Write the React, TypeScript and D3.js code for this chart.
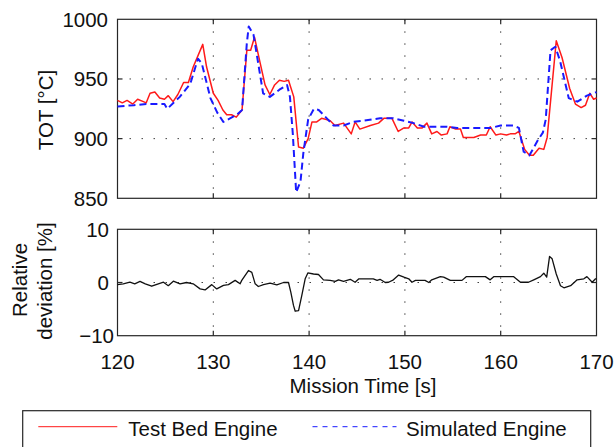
import React from 'react';
import * as d3 from 'd3';

// Test Bed Engine TOT [°C] over mission time [s]
const testBed: [number, number][] = [
  [120.0, 932], [120.5, 930], [121.0, 932], [121.6, 929], [122.1, 933], [122.7, 931],
  [123.0, 930], [123.4, 938], [123.9, 939], [124.4, 934], [124.9, 933], [125.3, 936],
  [125.8, 931], [126.3, 937], [126.9, 947], [127.4, 947], [127.9, 960], [128.9, 979],
  [129.3, 960], [130.0, 938], [130.5, 932], [131.0, 924], [131.4, 920], [131.9, 920],
  [132.4, 918], [133.0, 924], [133.5, 974], [133.9, 974], [134.3, 985], [134.9, 963],
  [135.4, 945], [135.9, 937], [136.4, 945], [136.9, 949], [137.4, 948], [137.85, 949],
  [138.4, 935], [138.9, 893], [139.4, 892], [139.9, 900], [140.3, 914], [140.8, 914],
  [141.3, 917], [141.8, 916], [142.2, 915], [142.7, 911], [143.6, 913], [144.4, 904],
  [144.8, 914], [145.3, 908], [146.4, 911], [147.25, 913], [147.8, 917], [148.65, 917],
  [149.3, 906], [149.9, 909], [150.4, 909], [150.75, 914], [151.3, 909], [151.8, 909],
  [152.3, 913], [152.8, 904], [153.35, 906], [153.8, 903], [154.4, 904], [154.7, 910],
  [155.3, 908], [155.8, 908], [156.1, 901], [157.2, 901], [157.9, 903], [158.5, 903],
  [158.9, 910], [159.5, 903], [160.0, 904], [160.6, 903], [161.0, 904], [161.5, 904],
  [161.9, 906], [162.5, 891], [163.0, 886], [163.4, 886], [164.0, 892], [164.5, 891],
  [164.85, 901], [165.8, 982], [166.4, 968], [167.2, 942], [167.8, 929], [168.4, 926],
  [168.85, 928], [169.3, 938], [169.7, 933], [170.0, 934],
];

// Simulated Engine TOT [°C]
const simulated: [number, number][] = [
  [120.0, 927], [121.7, 928], [123.0, 929], [124.9, 929], [125.2, 925], [126.5, 935],
  [127.6, 946], [128.4, 967], [128.8, 963], [129.7, 934], [130.4, 922], [131.05, 914],
  [132.45, 920], [133.0, 924], [133.5, 980], [133.7, 994], [134.2, 987], [135.2, 938],
  [135.9, 935], [136.9, 941], [137.7, 945], [138.0, 935], [138.3, 904], [138.65, 855],
  [139.1, 864], [139.4, 888], [139.9, 916], [140.5, 925], [141.0, 924], [141.85, 917],
  [142.55, 911], [143.6, 911], [144.6, 914], [145.7, 915], [147.4, 917], [148.8, 917],
  [149.9, 915], [150.9, 913], [152.0, 910], [154.4, 910], [155.45, 909], [157.9, 909],
  [159.0, 909], [160.0, 911], [161.3, 911], [161.9, 909], [162.4, 889], [163.0, 886],
  [163.9, 899], [164.4, 905], [164.7, 916], [165.2, 974], [165.7, 977], [166.2, 965],
  [167.1, 934], [168.0, 931], [169.0, 936], [170.0, 939],
];

// Relative deviation [%]
const deviation: [number, number][] = [
  [120.0, -0.4], [120.6, -0.25], [121.3, 0.05], [121.8, -0.25], [122.35, 0.2], [122.9, -0.25],
  [123.57, -0.7], [124.26, -0.25], [124.8, 0.05], [125.3, -0.6], [125.83, 0.25], [126.53, -0.25],
  [127.2, 0], [127.9, -0.25], [128.62, -1.2], [129.14, -1.4], [129.84, -0.4], [130.36, -1.2],
  [131.06, -0.55], [131.58, -0.4], [132.28, 0.4], [132.8, -0.25], [132.97, 0.4], [133.67, 2.25],
  [134.02, 1.9], [134.37, -0.25], [134.7, -0.75], [135.24, -0.4], [135.93, -0.1], [136.63, -0.45],
  [137.33, 0], [137.85, 0], [138.09, -1.8], [138.37, -4.3], [138.55, -5.4], [138.9, -5.3],
  [139.24, -2.4], [139.59, 0.7], [139.87, 1.8], [140.46, 1.6], [140.98, 1.5], [141.5, 0.5],
  [142.2, 0.4], [142.73, 0.2], [143.07, 0.5], [143.6, 0.2], [144.3, 0.6], [144.8, 0.05],
  [145.2, 0.7], [146.7, 0.7], [147.1, 0.4], [147.4, 0.6], [147.95, 0], [148.3, 0.05],
  [148.8, 0.5], [149.35, 1.4], [149.9, 1.0], [150.4, 0.7], [150.74, 0.05], [151.1, 0.4],
  [152.1, 0.4], [152.5, 0], [152.8, 0.5], [153.7, 1.1], [154.05, 1.0], [154.74, 0.4],
  [155.96, 0.4], [156.4, 1.1], [158.4, 1.1], [158.9, 0.5], [159.27, 1.1], [161.36, 1.1],
  [162.06, 0.05], [162.9, 0.05], [163.45, 0.5], [164.15, 1.1], [164.5, 1.75], [164.8, 1.0],
  [165.1, 4.9], [165.37, 4.45], [165.8, 1.6], [166.24, -0.6], [166.6, -1.0], [167.3, -0.6],
  [167.98, 0.5], [168.68, 0.7], [169.0, 1.1], [169.55, 0.05], [169.9, 0.7], [170.0, 0.7],
];

const xTicks = [120, 130, 140, 150, 160, 170];
const totTicks = [850, 900, 950, 1000];
const devTicks = [-10, 0, 10];
const devTickLabels = ['\u221210', '0', '10'];
const legendLabels = ['Test Bed Engine', 'Simulated Engine'];

const FONT = '"Liberation Sans", Arial, Helvetica, sans-serif';
const FS = 20.5;
const AXIS = '#262626';
const GRID = '#404040';

const left = 117.5;
const right = 596.5;

const x = d3.scaleLinear().domain([120, 170]).range([left, right]);
const yTot = d3.scaleLinear().domain([850, 1000]).range([198.3, 19.3]);
const yDev = d3.scaleLinear().domain([-10, 10]).range([335.7, 229.3]);

const Panel = ({ y, ticks }: { y: d3.ScaleLinear<number, number>; ticks: number[] }) => {
  const [y0, y1] = y.range();
  const inner = ticks.filter((t) => t !== y.domain()[0] && t !== y.domain()[1]);
  const innerX = xTicks.slice(1, -1);
  return (
    <g>
      {innerX.map((t) => (
        <line key={`gx${t}`} x1={x(t)} x2={x(t)} y1={y1} y2={y0}
          stroke={GRID} strokeWidth={1} strokeDasharray="1.5,10.5" />
      ))}
      {inner.map((t) => (
        <line key={`gy${t}`} x1={left} x2={right} y1={y(t)} y2={y(t)}
          stroke={GRID} strokeWidth={1} strokeDasharray="1.5,10.5" />
      ))}
      {innerX.map((t) => (
        <g key={`tx${t}`} stroke={AXIS} strokeWidth={1.2}>
          <line x1={x(t)} x2={x(t)} y1={y0} y2={y0 - 5} />
          <line x1={x(t)} x2={x(t)} y1={y1} y2={y1 + 5} />
        </g>
      ))}
      {inner.map((t) => (
        <g key={`ty${t}`} stroke={AXIS} strokeWidth={1.2}>
          <line x1={left} x2={left + 5} y1={y(t)} y2={y(t)} />
          <line x1={right} x2={right - 5} y1={y(t)} y2={y(t)} />
        </g>
      ))}
      <rect x={left} y={y1} width={right - left} height={y0 - y1}
        fill="none" stroke={AXIS} strokeWidth={1.2} />
    </g>
  );
};

const App = () => {
  const lineTot = d3.line<[number, number]>().x((d) => x(d[0])).y((d) => yTot(d[1]));
  const lineDev = d3.line<[number, number]>().x((d) => x(d[0])).y((d) => yDev(d[1]));

  return (
    <svg width={614} height={447} style={{ position: 'absolute', left: 0, top: 0, background: '#fff' }}
      fontFamily={FONT} fontSize={FS}>
      <rect width={614} height={447} fill="#fff" />
      <Panel y={yTot} ticks={totTicks} />
      <Panel y={yDev} ticks={devTicks} />

      <path d={lineTot(testBed) ?? ''} fill="none" stroke="#ff1a1a" strokeWidth={1.5} strokeLinejoin="round" />
      <path d={lineTot(simulated) ?? ''} fill="none" stroke="#1a1aff" strokeWidth={2}
        strokeDasharray="7,4" strokeLinejoin="round" />
      <path d={lineDev(deviation) ?? ''} fill="none" stroke="#111" strokeWidth={1.3} strokeLinejoin="round" />

      {totTicks.map((t) => (
        <text key={`lt${t}`} x={left - 9.5} y={yTot(t)} dy="0.36em" textAnchor="end" fill="#111">{t}</text>
      ))}
      {devTicks.map((t, i) => (
        <text key={`ld${t}`} x={left - 8.5 + (t < 0 ? 5 : 0)} y={yDev(t)} dy="0.36em" textAnchor="end" fill="#111">
          {devTickLabels[i]}
        </text>
      ))}
      {xTicks.map((t) => (
        <text key={`lx${t}`} x={x(t)} y={369.3} textAnchor="middle" fill="#111">{t}</text>
      ))}

      <text x={363} y={393.3} textAnchor="middle" fill="#111">Mission Time [s]</text>
      <text transform="translate(53,110) rotate(-90)" textAnchor="middle" fill="#111">TOT [°C]</text>
      <text transform="translate(26.5,280) rotate(-90)" textAnchor="middle" fill="#111">Relative</text>
      <text transform="translate(52,281) rotate(-90)" textAnchor="middle" fill="#111">deviation [%]</text>

      <g>
        <rect x={22.7} y={410.7} width={568} height={60} fill="#fff" stroke={AXIS} strokeWidth={1.2} />
        <line x1={38.3} x2={117.3} y1={426.7} y2={426.7} stroke="#ff1a1a" strokeWidth={1} />
        <text x={128.3} y={436} fill="#111">{legendLabels[0]}</text>
        <line x1={312.5} x2={396.5} y1={426.7} y2={426.7} stroke="#1a1aff" strokeWidth={1} strokeDasharray="5,5" />
        <text x={406} y={436} fill="#111">{legendLabels[1]}</text>
      </g>
    </svg>
  );
};

export default App;
